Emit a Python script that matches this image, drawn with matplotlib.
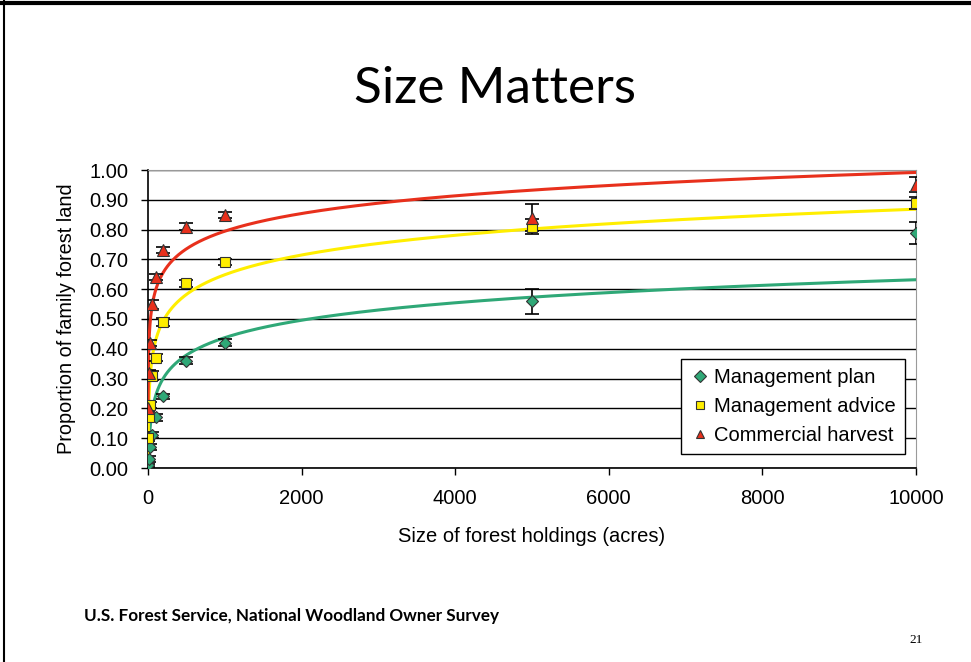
import numpy as np
import matplotlib.pyplot as plt

# size classes (acres) and proportions
acres = [1, 10, 20, 50, 100, 200, 500, 1000, 5000, 10000]

plan = [0.01, 0.03, 0.07, 0.11, 0.17, 0.24, 0.36, 0.42, 0.56, 0.79]
plan_err = [0.005, 0.01, 0.01, 0.01, 0.012, 0.01, 0.012, 0.012, 0.042, 0.037]

advice = [0.10, 0.17, 0.21, 0.31, 0.37, 0.49, 0.62, 0.69, 0.81, 0.89]
advice_err = [0.01, 0.01, 0.01, 0.015, 0.012, 0.015, 0.012, 0.01, 0.025, 0.02]

harvest = [0.20, 0.32, 0.42, 0.55, 0.64, 0.73, 0.81, 0.85, 0.84, 0.95]
harvest_err = [0.01, 0.01, 0.01, 0.015, 0.01, 0.01, 0.012, 0.01, 0.045, 0.025]

y_ticks = [0.0, 0.1, 0.2, 0.3, 0.4, 0.5, 0.6, 0.7, 0.8, 0.9, 1.0]
x_ticks = [0, 2000, 4000, 6000, 8000, 10000]

series = [
    ("Management plan", plan, plan_err, "#2fa877", "D", 6),
    ("Management advice", advice, advice_err, "#ffee00", "s", 7),
    ("Commercial harvest", harvest, harvest_err, "#e8301c", "^", 8),
]

plt.rcParams["font.family"] = ["Liberation Sans", "DejaVu Sans"]

fig = plt.figure(figsize=(9.71, 6.62), dpi=100)
ax = fig.add_axes([148 / 971, 1 - 468 / 662, (916 - 148) / 971, (468 - 170) / 662])

x = np.array(acres, dtype=float)
xs = np.linspace(1, 10000, 4000)

# log trendlines (like Excel), fitted to each series
for name, ys, err, col, mk, ms in series:
    b, a = np.polyfit(np.log(x), ys, 1)
    ax.plot(xs, a + b * np.log(xs), color=col, lw=2.2, zorder=3)

for name, ys, err, col, mk, ms in series:
    ax.errorbar(x, ys, yerr=err, fmt="none", ecolor="black", elinewidth=1.2,
                capsize=5, capthick=1.2, zorder=4)
    ax.plot(x, ys, linestyle="none", marker=mk, markersize=ms, markerfacecolor=col,
            markeredgecolor="#333333", markeredgewidth=0.8, label=name, zorder=5)

ax.set_xlim(0, 10000)
ax.set_ylim(0, 1.0)
ax.set_xticks(x_ticks)
ax.set_yticks(y_ticks)
ax.set_yticklabels([f"{v:.2f}" for v in y_ticks])
ax.tick_params(axis="both", direction="out", length=5, width=1, labelsize=14.5)
ax.tick_params(axis="y", pad=9)
ax.tick_params(axis="x", pad=10)
ax.grid(axis="y", color="black", lw=1)
ax.set_axisbelow(True)

for s in ["top", "right"]:
    ax.spines[s].set_color("#9a9a9a")
for s in ["left", "bottom"]:
    ax.spines[s].set_color("black")
    ax.spines[s].set_linewidth(1.2)

ax.set_xlabel("Size of forest holdings (acres)", fontsize=14.5, labelpad=14)
ax.set_ylabel("Proportion of family forest land", fontsize=14.3, labelpad=10)

leg = ax.legend(loc="lower right", bbox_to_anchor=(0.986, 0.047), borderaxespad=0,
                fontsize=14.5, frameon=True, fancybox=False, edgecolor="black",
                framealpha=1, handletextpad=0.2, handlelength=1.0, borderpad=0.45,
                labelspacing=0.5)
leg.get_frame().set_linewidth(1.0)
for h in leg.legend_handles:
    h.set_markersize(6)

fig.text(0.51, 0.866, "Size Matters", ha="center", va="center", fontsize=37, family="Lato")
fig.text(0.087, 0.069, "U.S. Forest Service, National Woodland Owner Survey",
         fontsize=12.3, fontweight="bold", family="Lato", va="center")
fig.text(0.943, 0.033, "21", fontsize=9.5, family="Liberation Serif", ha="center", va="center")

# slide frame (top and left edges)
fig.add_artist(plt.Line2D([0, 1], [0.995, 0.995], transform=fig.transFigure, color="black", lw=3))
fig.add_artist(plt.Line2D([0.004, 0.004], [0, 1], transform=fig.transFigure, color="black", lw=1.5))

fig.savefig("out.png", dpi=100)
